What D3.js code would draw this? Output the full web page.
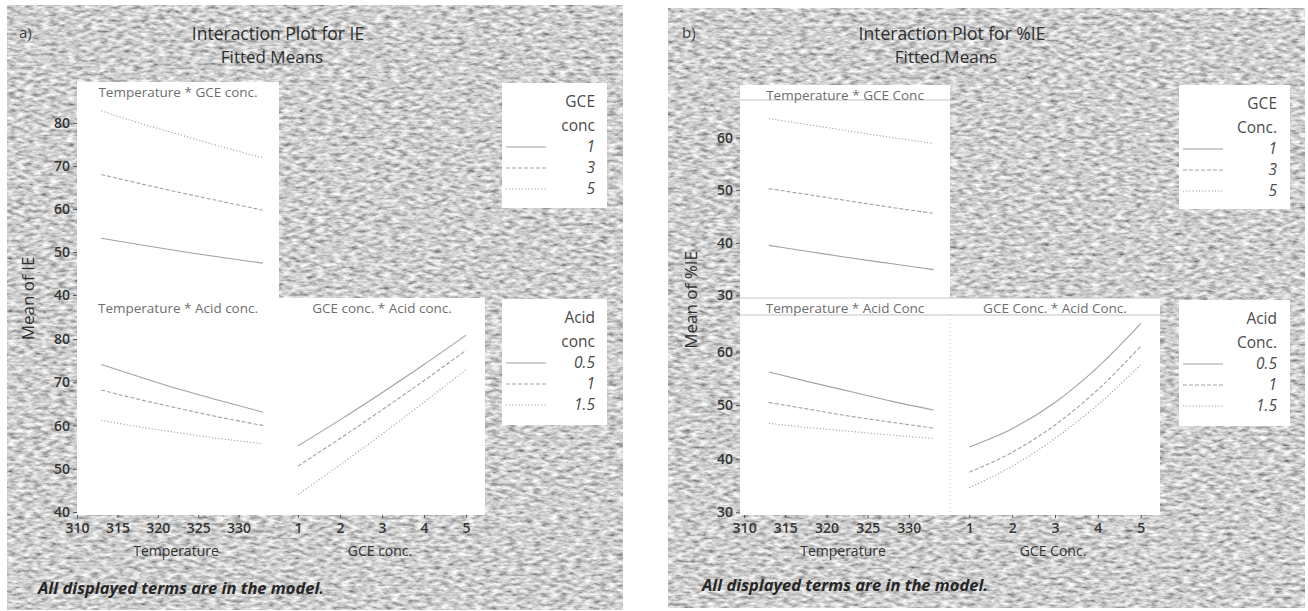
<!DOCTYPE html>

<html lang="en">

	<head>
		<meta charset="utf-8">
		<title>Interaction plots</title>
		<script type="text/javascript" src="https://cdn.jsdelivr.net/npm/d3@7"></script>
		<style>
			body { margin: 0; background: #ffffff; }
		</style>
	</head>

	<body>

		<script type="text/javascript">

		// -- Data -- //

		const temperature = [313, 318, 323, 328, 333];
		const gceConc = [1, 2, 3, 4, 5];

		const gceLevels = ["1", "3", "5"];
		const acidLevels = ["0.5", "1", "1.5"];

		const tempTicks = [310, 315, 320, 325, 330];
		const gceTicks = [1, 2, 3, 4, 5];
		const ieTicks = [40, 50, 60, 70, 80];
		const pieTicks = [30, 40, 50, 60];

		// a) IE, one row per level (same order as the level arrays)
		const ieTempByGce = [
			[53.2, 51.6, 50.1, 48.7, 47.4],
			[68.0, 65.8, 63.7, 61.7, 59.7],
			[82.8, 79.8, 77.1, 74.4, 71.9]
		];
		const ieTempByAcid = [
			[74.1, 71.1, 68.2, 65.6, 63.1],
			[68.2, 65.9, 63.8, 61.8, 60.0],
			[61.2, 59.6, 58.2, 56.9, 55.8]
		];
		const ieGceByAcid = [
			[55.3, 61.3, 67.6, 74.1, 80.9],
			[50.6, 57.0, 63.6, 70.4, 77.4],
			[44.0, 50.9, 58.0, 65.4, 72.9]
		];

		// b) %IE
		const pieTempByGce = [
			[39.5, 38.3, 37.1, 36.0, 34.9],
			[50.3, 49.1, 47.9, 46.7, 45.6],
			[63.6, 62.4, 61.2, 60.0, 58.9]
		];
		const pieTempByAcid = [
			[56.2, 54.3, 52.5, 50.7, 49.1],
			[50.5, 49.2, 47.9, 46.8, 45.7],
			[46.6, 45.8, 45.1, 44.4, 43.8]
		];
		const pieGceByAcid = [
			[42.2, 45.6, 50.5, 57.1, 65.2],
			[37.5, 41.2, 46.3, 52.9, 61.0],
			[34.6, 38.6, 43.8, 50.1, 57.5]
		];

		// -- Setting -- //

		let canvasWidth = 1308;
		let canvasHeight = 611;

		let fontFamily = "'Open Sans', 'Noto Sans', sans-serif";
		let lineColor = "#a2a2a2";
		let dashes = [null, "4,2", "1.2,2"];

		const canvas = d3.select("body")
			.append("svg")
			.attr("id", "canvas")
			.attr("width", canvasWidth)
			.attr("height", canvasHeight);

		// grainy grey background like the scanned original
		const defs = canvas.append("defs");
		const grain = defs.append("filter")
			.attr("id", "grain")
			.attr("x", 0).attr("y", 0).attr("width", 1).attr("height", 1);
		grain.append("feTurbulence")
			.attr("type", "fractalNoise")
			.attr("baseFrequency", "0.12 0.3")
			.attr("numOctaves", 3)
			.attr("seed", 7);
		grain.append("feColorMatrix")
			.attr("type", "matrix")
			.attr("values", "1.2 0 0 0 0.02  1.2 0 0 0 0.02  1.2 0 0 0 0.02  0 0 0 0 1");

		// -- Panels -- //

		let panels = [
			{
				tag: "a)", title: "Interaction Plot for IE", yTitle: "Mean of IE",
				frame: [7, 5, 623, 610], tagX: 19, titleX: 278,
				yTicks: ieTicks, yDomain: [39.3, 89.5],
				colLeft: [77, 279], colRight: [279, 485], rowTop: [82, 298], rowBottom: [298, 515],
				tempDomain: [310, 335], strips: false,
				tempTitle: "Temperature", gceTitle: "GCE conc.",
				cells: [
					{ name: "Temperature * GCE conc.", data: ieTempByGce, x: "temp", col: "left", row: "top" },
					{ name: "Temperature * Acid conc.", data: ieTempByAcid, x: "temp", col: "left", row: "bottom" },
					{ name: "GCE conc. * Acid conc.", data: ieGceByAcid, x: "gce", col: "right", row: "bottom" }
				],
				legendX: [502, 607], legendTextX: 595,
				legends: [
					{ head: ["GCE", "conc"], levels: gceLevels, y: [83, 208] },
					{ head: ["Acid", "conc"], levels: acidLevels, y: [299, 425] }
				],
				footX: 38, footY: 594
			},
			{
				tag: "b)", title: "Interaction Plot for %IE", yTitle: "Mean of %IE",
				frame: [668, 8, 1305, 608], tagX: 682, titleX: 952,
				yTicks: pieTicks, yDomain: [29.5, 70],
				colLeft: [740, 950], colRight: [950, 1160], rowTop: [85, 298], rowBottom: [298, 515],
				tempDomain: [309.5, 335], strips: true,
				tempTitle: "Temperature", gceTitle: "GCE Conc.",
				cells: [
					{ name: "Temperature * GCE Conc", data: pieTempByGce, x: "temp", col: "left", row: "top" },
					{ name: "Temperature * Acid Conc", data: pieTempByAcid, x: "temp", col: "left", row: "bottom" },
					{ name: "GCE Conc. * Acid Conc.", data: pieGceByAcid, x: "gce", col: "right", row: "bottom" }
				],
				legendX: [1179, 1290], legendTextX: 1277,
				legends: [
					{ head: ["GCE", "Conc."], levels: gceLevels, y: [85, 209] },
					{ head: ["Acid", "Conc."], levels: acidLevels, y: [300, 426] }
				],
				footX: 702, footY: 591
			}
		];

		let drawPanel = function(p) {

			const g = canvas.append("g");
			let f = p.frame;

			g.append("rect")
				.attr("x", f[0]).attr("y", f[1])
				.attr("width", f[2] - f[0]).attr("height", f[3] - f[1])
				.attr("fill", "#a4a4a4")
				.attr("filter", "url(#grain)");

			// titles
			g.append("text")
				.attr("x", p.tagX).attr("y", 38)
				.attr("font-family", fontFamily).attr("font-size", 15)
				.attr("fill", "#3c3c3c")
				.text(p.tag);

			g.append("text")
				.attr("x", p.titleX).attr("y", 40)
				.attr("text-anchor", "middle")
				.attr("font-family", fontFamily).attr("font-size", 17.5)
				.attr("fill", "#2e2e2e")
				.text(p.title);

			g.append("text")
				.attr("x", p.titleX - 6).attr("y", 63)
				.attr("text-anchor", "middle")
				.attr("font-family", fontFamily).attr("font-size", 17)
				.attr("fill", "#2e2e2e")
				.text("Fitted Means");

			// white plot area (L shape: empty top-right cell stays grey)
			let xScales = {
				temp: d3.scaleLinear().domain(p.tempDomain).range(p.colLeft),
				gce: d3.scaleLinear().domain([0.55, 5.45]).range(p.colRight)
			};
			let yScales = {
				top: d3.scaleLinear().domain(p.yDomain).range([p.rowTop[1], p.rowTop[0]]),
				bottom: d3.scaleLinear().domain(p.yDomain).range([p.rowBottom[1], p.rowBottom[0]])
			};

			let rects = [
				[p.colLeft[0], p.colLeft[1], p.rowTop[0], p.rowTop[1]],
				[p.colLeft[0], p.colRight[1], p.rowBottom[0], p.rowBottom[1]]
			];
			rects.forEach(function(r) {
				g.append("rect")
					.attr("x", r[0]).attr("y", r[2])
					.attr("width", r[1] - r[0]).attr("height", r[3] - r[2])
					.attr("fill", "#ffffff");
			});

			if (p.strips) {
				// faint strip rules and the dotted column divider
				[[p.colLeft[0], p.colLeft[1], p.rowTop[0] + 15],
				 [p.colLeft[0], p.colRight[1], p.rowBottom[0]],
				 [p.colLeft[0], p.colRight[1], p.rowBottom[0] + 17]].forEach(function(l) {
					g.append("line")
						.attr("x1", l[0]).attr("x2", l[1])
						.attr("y1", l[2]).attr("y2", l[2])
						.attr("stroke", "#c4c4c4").attr("stroke-width", 1);
				});
				g.append("line")
					.attr("x1", p.colRight[0]).attr("x2", p.colRight[0])
					.attr("y1", p.rowBottom[0] + 17).attr("y2", p.rowBottom[1])
					.attr("stroke", "#d0d0d0").attr("stroke-dasharray", "1,3");
			}

			// cells
			p.cells.forEach(function(c) {
				let col = c.col === "left" ? p.colLeft : p.colRight;
				let row = c.row === "top" ? p.rowTop : p.rowBottom;
				let xs = xScales[c.x];
				let ys = yScales[c.row];
				let xv = c.x === "temp" ? temperature : gceConc;

				g.append("text")
					.attr("x", (col[0] + col[1]) / 2)
					.attr("y", row[0] + 15)
					.attr("text-anchor", "middle")
					.attr("font-family", fontFamily).attr("font-size", 13.5)
					.attr("fill", "#6e6e6e")
					.text(c.name);

				let line = d3.line()
					.x(function(d, i) { return xs(xv[i]); })
					.y(function(d) { return ys(d); })
					.curve(d3.curveMonotoneX);

				g.append("g")
					.selectAll("path")
					.data(c.data)
					.join("path")
						.attr("d", line)
						.attr("fill", "none")
						.attr("stroke", lineColor)
						.attr("stroke-width", 1.1)
						.attr("stroke-dasharray", function(d, i) { return dashes[i]; });
			});

			// y axes (one per row)
			["top", "bottom"].forEach(function(r) {
				let ax = g.append("g")
					.attr("transform", `translate(${p.colLeft[0]},0)`)
					.call(d3.axisLeft(yScales[r]).tickValues(p.yTicks).tickSize(4).tickPadding(3));
				ax.select(".domain").remove();
				ax.selectAll("line").attr("stroke", "#555");
				ax.selectAll("text")
					.attr("font-family", fontFamily).attr("font-size", 14)
					.attr("font-weight", 600)
					.attr("fill", "#353535");
			});

			// x axes (bottom row)
			[["temp", tempTicks, p.colLeft, p.tempTitle], ["gce", gceTicks, p.colRight, p.gceTitle]].forEach(function(a) {
				let ax = g.append("g")
					.attr("transform", `translate(0,${p.rowBottom[1]})`)
					.call(d3.axisBottom(xScales[a[0]]).tickValues(a[1]).tickFormat(d3.format("d")).tickSize(3).tickPadding(5));
				ax.select(".domain").remove();
				ax.selectAll("line").attr("stroke", "#555");
				ax.selectAll("text")
					.attr("font-family", fontFamily).attr("font-size", 14)
					.attr("font-weight", 600)
					.attr("fill", "#353535");

				g.append("text")
					.attr("x", (a[2][0] + a[2][1]) / 2 - 2)
					.attr("y", p.rowBottom[1] + 41)
					.attr("text-anchor", "middle")
					.attr("font-family", fontFamily).attr("font-size", 14)
					.attr("fill", "#333")
					.text(a[3]);
			});

			// y title
			g.append("text")
				.attr("transform", `translate(${p.colLeft[0] - 43},${(p.rowTop[0] + p.rowBottom[1]) / 2}) rotate(-90)`)
				.attr("text-anchor", "middle")
				.attr("font-family", fontFamily).attr("font-size", 17)
				.attr("fill", "#2e2e2e")
				.text(p.yTitle);

			// legends
			p.legends.forEach(function(lg) {
				g.append("rect")
					.attr("x", p.legendX[0]).attr("y", lg.y[0])
					.attr("width", p.legendX[1] - p.legendX[0])
					.attr("height", lg.y[1] - lg.y[0])
					.attr("fill", "#ffffff");

				lg.head.forEach(function(h, i) {
					g.append("text")
						.attr("x", p.legendTextX).attr("y", lg.y[0] + 24 + i * 24)
						.attr("text-anchor", "end")
						.attr("font-family", fontFamily).attr("font-size", 15.5)
						.attr("fill", "#4a4a4a")
						.text(h);
				});

				lg.levels.forEach(function(lv, i) {
					let yy = lg.y[0] + 64 + i * 21;
					g.append("line")
						.attr("x1", p.legendX[0] + 4).attr("x2", p.legendX[0] + 44)
						.attr("y1", yy).attr("y2", yy)
						.attr("stroke", lineColor).attr("stroke-width", 1.1)
						.attr("stroke-dasharray", dashes[i]);
					g.append("text")
						.attr("x", p.legendTextX).attr("y", yy + 5)
						.attr("text-anchor", "end")
						.attr("font-family", fontFamily).attr("font-size", 15.5)
						.attr("font-style", "italic")
						.attr("fill", "#4a4a4a")
						.text(lv);
				});
			});

			// footnote
			g.append("text")
				.attr("x", p.footX).attr("y", p.footY)
				.attr("font-family", fontFamily).attr("font-size", 16.5)
				.attr("font-weight", "bold").attr("font-style", "italic")
				.attr("fill", "#262626")
				.text("All displayed terms are in the model.");
		};

		panels.forEach(drawPanel);

		</script>

	</body>

</html>
